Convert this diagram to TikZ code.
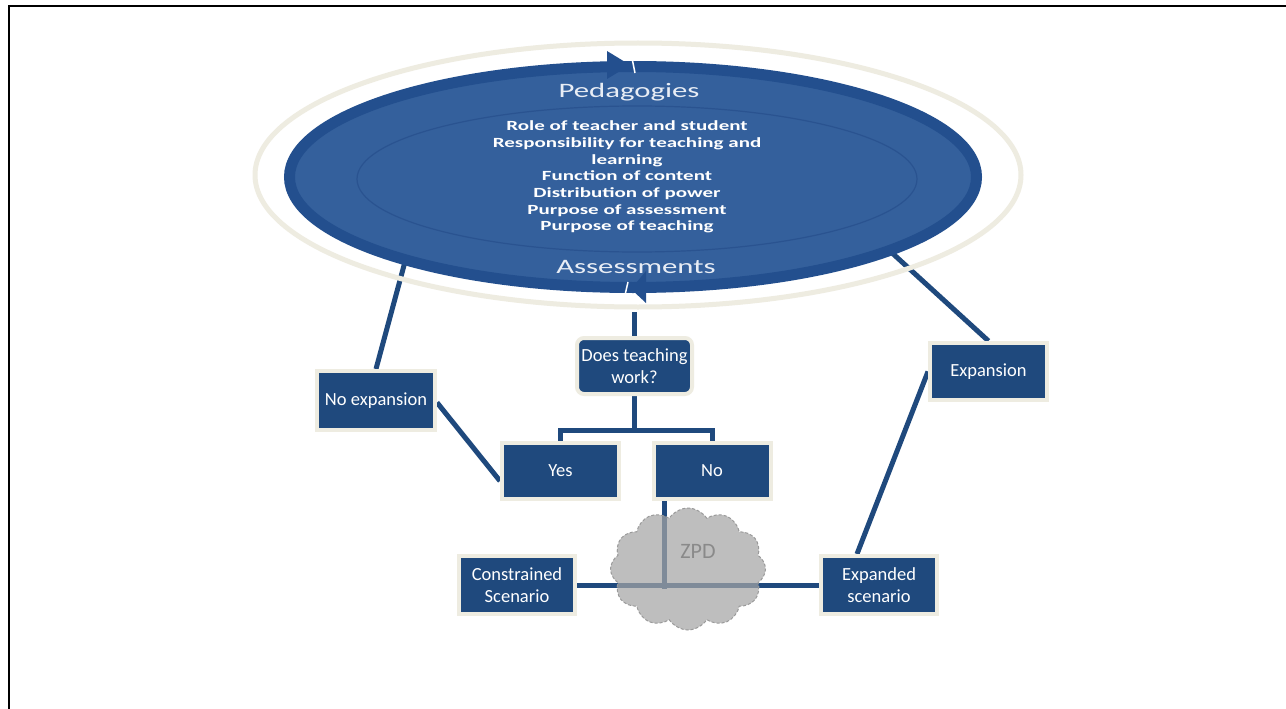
\documentclass[tikz,border=0pt]{standalone}
\usepackage{fontspec}
\setmainfont{Carlito}
\newfontfamily\widefont[FakeStretch=1.5]{Carlito}
\usetikzlibrary{shapes.geometric,shapes.symbols,calc}

\definecolor{navy}{HTML}{1F497D}
\definecolor{tanrim}{HTML}{EEECE1}
\definecolor{band}{HTML}{234F8E}
\definecolor{ovalfill}{HTML}{34609C}
\definecolor{innerline}{HTML}{2A5390}
\definecolor{pedtext}{HTML}{E8EDF5}
\definecolor{cloudgray}{HTML}{A5A5A5}
\definecolor{cloudedge}{HTML}{9A9A9A}
\definecolor{zpdgray}{HTML}{8A8A8A}

\pgfdeclarelayer{back}
\pgfdeclarelayer{mid}
\pgfsetlayers{back,mid,main}

\tikzset{
  box/.style={fill=navy, draw=tanrim, line width=4pt, text=white,
    font=\fontsize{18.5}{22}\selectfont, align=center, inner sep=0pt},
  link/.style={draw=navy, line width=5pt},
}

\begin{document}
\begin{tikzpicture}[x=1pt,y=-1pt]
\useasboundingbox (0,0) rectangle (1286,709);

% page background
\begin{pgfonlayer}{back}
  \fill[white] (0,0) rectangle (1286,709);
\end{pgfonlayer}

% outer halo, cycle oval, inner ring
\node[ellipse, draw=tanrim, line width=5pt, inner sep=0pt, outer sep=0pt,
      minimum width=766pt, minimum height=264pt] (ring) at (638,175) {};
\node[ellipse, draw=band, fill=ovalfill, line width=11pt, inner sep=0pt, outer sep=0pt,
      minimum width=687pt, minimum height=221pt] (ped) at (633,177) {};
\draw[innerline, line width=1.2pt] (637,179) ellipse [x radius=280pt, y radius=73pt];

% arrowheads of the cycle band
\fill[band] (607,51) -- (630,65) -- (607,79) -- cycle;
\draw[white, line width=1.5pt] (632,58) -- (635,73);
\fill[band] (646,271) -- (631,289) -- (646,303) -- cycle;
\draw[white, line width=1.5pt] (628,282) -- (625,295);

% oval texts
\node[font=\widefont\fontsize{20.5}{24}\selectfont, text=pedtext, anchor=base] (pedlabel) at (629,97) {Pedagogies};
\node[font=\widefont\bfseries\fontsize{14}{16.7}\selectfont, text=white, align=center] (items) at (627,177)
  {Role of teacher and student\\Responsibility for teaching and\\learning\\Function of content\\Distribution of power\\Purpose of assessment\\Purpose of teaching};
\node[font=\widefont\fontsize{20.5}{24}\selectfont, text=pedtext, anchor=base] (assesslabel) at (636,273) {Assessments};

% boxes
\node[box, minimum width=118pt, minimum height=59pt] (noexp) at (376,400.5) {No expansion};
\node[box, rounded corners=7pt, minimum width=115pt, minimum height=56pt] (dec) at (634.5,366) {Does teaching\\work?};
\node[box, minimum width=117pt, minimum height=56pt] (yes) at (560.5,471) {Yes};
\node[box, minimum width=117pt, minimum height=56pt] (no) at (712,471) {No};
\node[box, minimum width=117pt, minimum height=57pt] (exp) at (988.5,371.5) {Expansion};
\node[box, minimum width=116pt, minimum height=58pt] (cons) at (517,585) {Constrained\\Scenario};
\node[box, minimum width=116pt, minimum height=58pt] (expd) at (879,585) {Expanded\\scenario};

% connectors
\coordinate (split) at ($(dec.south)+(0,34)$);
\coordinate (hub) at ($(no.south)+(-48,88)$);
\begin{pgfonlayer}{mid}
  \draw[link] (ped.200) -- (noexp.north);
  \draw[link] ([yshift=-2pt]noexp.east) -- ([yshift=-10pt]yes.west);
  \draw[link] ([yshift=-5pt]ring.south -| dec.north) -- (dec.north);
  \draw[link] (dec.south) -- (split);
  \draw[link] (yes.north) |- (split) -| (no.north);
  \draw[link] ($(no.south)+(-48,0)$) -- (hub);
  \draw[link] (cons.east) -- (expd.west);
  \draw[link] (ped.-16) -- (exp.north);
  \draw[link] (exp.west) -- ([xshift=-22pt]expd.north);
\end{pgfonlayer}

% zone of proximal development
\node[cloud, cloud puffs=12, cloud puff arc=115, aspect=1.25, minimum width=155pt, minimum height=122pt,
      fill=cloudgray, fill opacity=0.72, draw=cloudedge, dash pattern=on 3pt off 2pt, line width=1pt] (zpdcloud) at (688,569) {};
\node[font=\fontsize{22}{26}\selectfont, text=zpdgray] (zpd) at (698,551) {ZPD};

% page frame
\draw[line width=2pt] (8.5,709) -- (8.5,6) -- (1286,6);
\end{tikzpicture}
\end{document}
